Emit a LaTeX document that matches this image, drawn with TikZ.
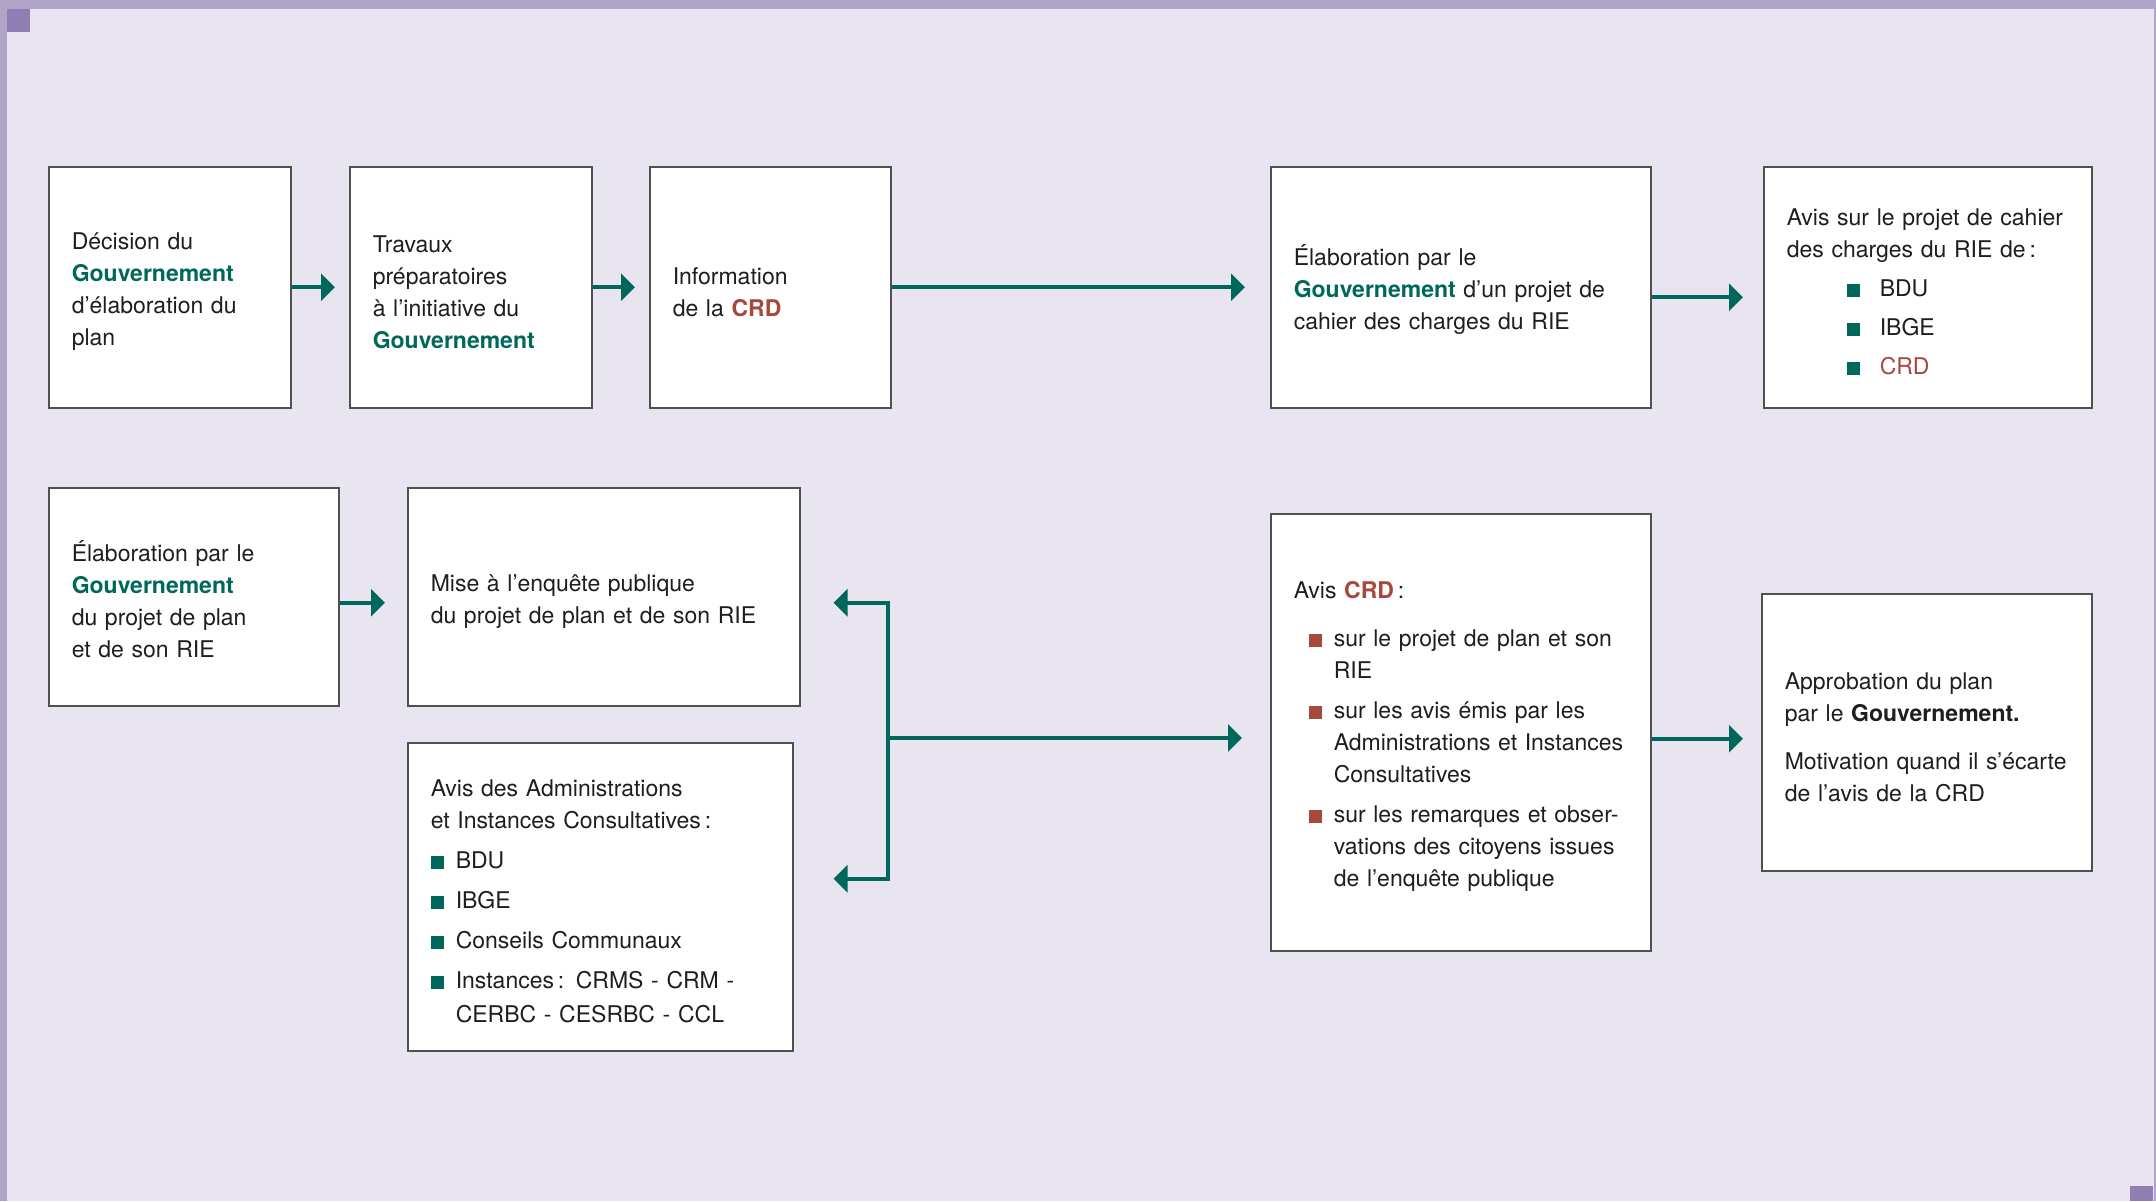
\documentclass[tikz,border=0pt]{standalone}
\usepackage{fontspec}
\setmainfont{TeX Gyre Heros}
\usepackage{tikz}
\usetikzlibrary{arrows.meta,calc}
\definecolor{fond}{HTML}{E8E5F1}
\definecolor{bande}{HTML}{B0A5C8}
\definecolor{coin}{HTML}{907EB2}
\definecolor{vert}{HTML}{00685A}
\definecolor{rouge}{HTML}{A8483C}
\definecolor{bord}{HTML}{505050}
\definecolor{texte}{HTML}{1E1E1E}
\newcommand\gouv{\textcolor{vert}{\textbf{Gouvernement}}}
\newcommand\crd{\textcolor{rouge}{\textbf{CRD}}}
\newcommand\carre[1]{\textcolor{#1}{\rule{6.5pt}{6.5pt}}}
\tikzset{
         etape/.style n args={3}{draw=bord,line width=0.75pt,fill=white,anchor=north west,
          minimum width=#1,minimum height=#2,text width=#3,inner xsep=11.5pt,inner ysep=0pt,
          align=left,text=texte,font=\fontsize{11.5}{16}\selectfont,
          execute at begin node={\rule{0pt}{13pt}}},
         fleche/.style={draw=vert,line width=2pt,-{Triangle[length=7pt,width=13.5pt]}}
        }
\begin{document}
\begin{tikzpicture}[x=0.5pt,y=-0.5pt]

%fond et cadre
\useasboundingbox(0,0)rectangle(2156,1201);
\fill[fond](0,0)rectangle(2156,1201);
\fill[bande](0,0)rectangle(2156,9);
\fill[bande](0,0)rectangle(7,1201);
\fill[bande](2154,0)rectangle(2156,1201);
\fill[coin](7,9)rectangle(30,32);
\fill[coin](2130,1186)rectangle(2153,1201);

%premiere rangee
\node[etape={121pt}{120.5pt}{98pt}](dec)at(48,166){D\'ecision du\\ \gouv\\ d’\'elaboration du\\ plan};
\node[etape={121pt}{120.5pt}{98pt}](trav)at(349,166){Travaux\\ pr\'eparatoires\\ \`a l’initiative du\\ \gouv};
\node[etape={120.5pt}{120.5pt}{97.5pt}](info)at(649,166){Information\\ de la \crd};
\node[etape={190pt}{120.5pt}{167pt}](elab)at(1270,166){\'Elaboration par le\\ \gouv{} d’un projet de\\ cahier des charges du RIE};
\node[etape={164pt}{120.5pt}{141pt}](avis)at(1763,166){Avis sur le projet de cahier\\ des charges du RIE de\,:\\[3.5pt]
 \hspace*{30pt}\carre{vert}\hspace{10pt}BDU\\[3.5pt]
 \hspace*{30pt}\carre{vert}\hspace{10pt}IBGE\\[3.5pt]
 \hspace*{30pt}\carre{vert}\hspace{10pt}\textcolor{rouge}{CRD}};

%deuxieme rangee
\node[etape={145pt}{109pt}{122pt}](plan)at(48,487){\'Elaboration par le\\ \gouv\\ du projet de plan\\ et de son RIE};
\node[etape={196pt}{109pt}{173pt}](enq)at(407,487){Mise \`a l’enqu\^ete publique\\ du projet de plan et de son RIE};
\node[etape={192.5pt}{154pt}{169.5pt}](adm)at(407,742){Avis des Administrations\\ et Instances Consultatives\,:\\[4pt]
 \carre{vert}\hspace{6pt}BDU\\[4pt]
 \carre{vert}\hspace{6pt}IBGE\\[4pt]
 \carre{vert}\hspace{6pt}Conseils Communaux\\[4pt]
 \carre{vert}\hspace{6pt}Instances\,: CRMS - CRM -\\[1pt]
 \hspace*{12.5pt}CERBC - CESRBC - CCL};
\node[etape={190pt}{218.5pt}{167pt}](crdav)at(1270,513){Avis \crd\,:\\[8pt]
 \hspace*{7.5pt}\carre{rouge}\hspace{6pt}sur le projet de plan et son\\
 \hspace*{20pt}RIE\\[4pt]
 \hspace*{7.5pt}\carre{rouge}\hspace{6pt}sur les avis \'emis par les\\
 \hspace*{20pt}Administrations et Instances\\
 \hspace*{20pt}Consultatives\\[4pt]
 \hspace*{7.5pt}\carre{rouge}\hspace{6pt}sur les remarques et obser-\\
 \hspace*{20pt}vations des citoyens issues\\
 \hspace*{20pt}de l’enqu\^ete publique};
\node[etape={165pt}{138.5pt}{142pt}](appr)at(1761,593){Approbation du plan\\ par le \textbf{Gouvernement.}\\[8pt]
 Motivation quand il s’\'ecarte\\ de l’avis de la CRD};

%fleches
\draw[fleche,shorten >=7pt](dec)--(trav);
\draw[fleche,shorten >=7pt](trav)--(info);
\draw[fleche,shorten >=12.5pt](info)--(elab);
\draw[fleche,shorten >=10pt]([yshift=-5pt]elab.east)--([yshift=-5pt]avis.west);
\draw[fleche,shorten >=11pt]([yshift=-3pt]plan.east)--([yshift=-3pt]enq.west);
\coordinate(noeud)at(888,738);
\draw[fleche,shorten >=16.5pt](noeud)|-([yshift=-3pt]enq.east);
\draw[fleche,shorten >=20pt](noeud)|-([yshift=9pt]adm.east);
\draw[fleche,shorten >=14pt](noeud)--(noeud-|crdav.west);
\draw[fleche,shorten >=9pt]([yshift=-3.25pt]crdav.east)--([yshift=-3.25pt]appr.west);

\end{tikzpicture}
\end{document}
